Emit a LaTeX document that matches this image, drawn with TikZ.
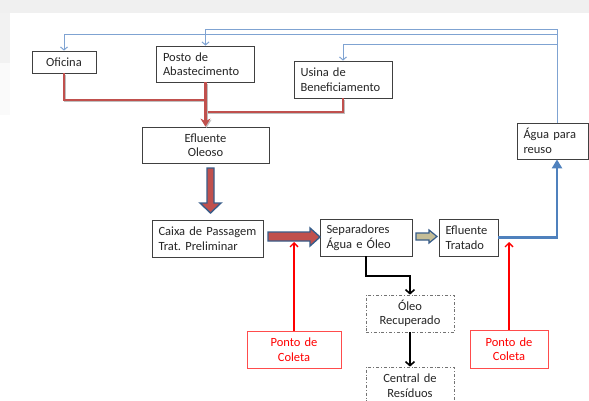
\documentclass[tikz,border=0pt]{standalone}
\usepackage{fontspec}
\setmainfont{Carlito}
\frenchspacing
\usetikzlibrary{arrows.meta,calc}
\definecolor{redline}{HTML}{C0504D}
\definecolor{blueline}{HTML}{4F81BD}
\definecolor{thinblue}{HTML}{7FA3D2}
\definecolor{arrowedge}{HTML}{385D8A}
\definecolor{tan}{HTML}{C4BD97}
\definecolor{ptred}{HTML}{FF0000}
\begin{document}
\begin{tikzpicture}[x=1pt,y=-1pt,
  boxbase/.style={draw=black!75, line width=0.8pt, fill=white, inner xsep=6.5pt, inner ysep=0pt,
    font=\fontsize{12.5}{14.5}\selectfont, text=black!85},
  lbox/.style={boxbase, align=left},
  cbox/.style={boxbase, align=center},
  dbox/.style={boxbase, align=center, draw=black!55, line width=0.7pt, dash dot},
  pbox/.style={boxbase, align=center, draw=ptred!70, text=ptred},
  redconn/.style={draw=redline, line width=2.6pt,
    preaction={draw=black!25, line width=2.6pt, transform canvas={shift={(1pt,-1.2pt)}}}},
  thinconn/.style={draw=thinblue, line width=1pt, -{Straight Barb[length=3pt,width=7pt]}},
  blueconn/.style={draw=blueline, line width=2.6pt, -{Triangle[length=9pt,width=10pt]}},
  blackconn/.style={draw=black, line width=2pt, -{Straight Barb[length=4pt,width=9pt,line width=1.6pt]}},
  ptconn/.style={draw=ptred, line width=1.6pt, -{Straight Barb[length=4pt,width=8pt,line width=1.4pt]}},
  blockarrow/.style={fill=redline, draw=arrowedge, line width=1.4pt, line join=miter}
]
% canvas
\useasboundingbox (0,0) rectangle (589,401);
\clip (0,0) rectangle (589,401);
\fill[white] (0,0) rectangle (589,401);
\fill[black!6] (0,0) rectangle (589,13);
\fill[black!5] (0,13) rectangle (10,63);
\fill[black!2] (0,63) rectangle (10,115);

% nodes
\node[cbox, text width=51pt, minimum height=22pt] (ofi) at (64,62) {Oficina};
\node[lbox, text width=85pt, minimum height=36pt] (posto) at (205.5,64) {Posto de\\Abastecimento};
\node[lbox, text width=85pt, minimum height=37pt] (usina) at (343,79.5) {Usina de\\Beneficiamento};
\node[cbox, text width=114pt, minimum height=36pt] (efl) at (205.5,145) {Efluente\\Oleoso};
\node[lbox, text width=58pt, minimum height=36pt] (agua) at (552.5,141) {Água para\\reuso};
\node[lbox, text width=98pt, minimum height=37pt] (caixa) at (207.5,238.5) {Caixa de Passagem\\Trat. Preliminar};
\node[lbox, text width=79pt, minimum height=37pt] (sep) at (366,237.5) {Separadores\\Água e Óleo};
\node[lbox, text width=46pt, minimum height=37pt] (trat) at (468.5,237.5) {Efluente\\Tratado};
\node[dbox, text width=75pt, minimum height=37pt] (oleo) at (410,313.5) {Óleo\\Recuperado};
\node[dbox, text width=75pt, minimum height=37pt] (central) at (410,385.5) {Central de\\Resíduos};
\node[pbox, text width=81pt, minimum height=37pt] (pc1) at (294,349.5) {Ponto de\\Coleta};
\node[pbox, text width=65pt, minimum height=38pt] (pc2) at (509,349) {Ponto de\\Coleta};

% helper coordinates
\coordinate (r1) at (205.5,100);
\coordinate (r2) at (205.5,112);
\coordinate (bx) at (557,0);
\coordinate (t1) at (0,30);
\coordinate (t2) at (0,35);
\coordinate (t3) at (0,45);
\coordinate (bk) at (0,276);

% red collecting lines
\draw[redconn] (ofi.south) |- (r1);
\draw[redconn] (usina.south) |- (r2);
\draw[redconn, -{Stealth[length=8pt,width=10pt]}] (posto.south) -- (efl.north);

% thin blue reuse lines
\draw[thinconn] (bx |- agua.north) -- (bx |- t1) -| (posto.north);
\draw[thinconn] (bx |- t2) -| (ofi.north);
\draw[thinconn] (bx |- t3) -| (usina.north);

% block arrows
\draw[blockarrow] (207,168) -- (214,168) -- (214,203) -- (221,203) -- (210.5,213)
  -- (200,203) -- (207,203) -- cycle;
\draw[blockarrow] (268,232) -- (310,232) -- (310,228) -- (320,237) -- (310,246)
  -- (310,241) -- (268,241) -- cycle;
\draw[blockarrow, fill=tan, line width=1.2pt] (416,233) -- (429,233) -- (429,230) -- (437,236.5)
  -- (429,243) -- (429,240) -- (416,240) -- cycle;

% treated effluent to reuse
\draw[blueconn] (trat.east) -| (bx |- agua.south);

% sampling points
\draw[ptconn] (pc1.north) -- (pc1.north |- 0,242);
\draw[ptconn] (pc2.north) -- (pc2.north |- 0,242);

% oil path
\draw[blackconn] (sep.south) -- (sep.south |- bk) -| (oleo.north);
\draw[blackconn] (oleo.south) -- (central.north);
\end{tikzpicture}
\end{document}
